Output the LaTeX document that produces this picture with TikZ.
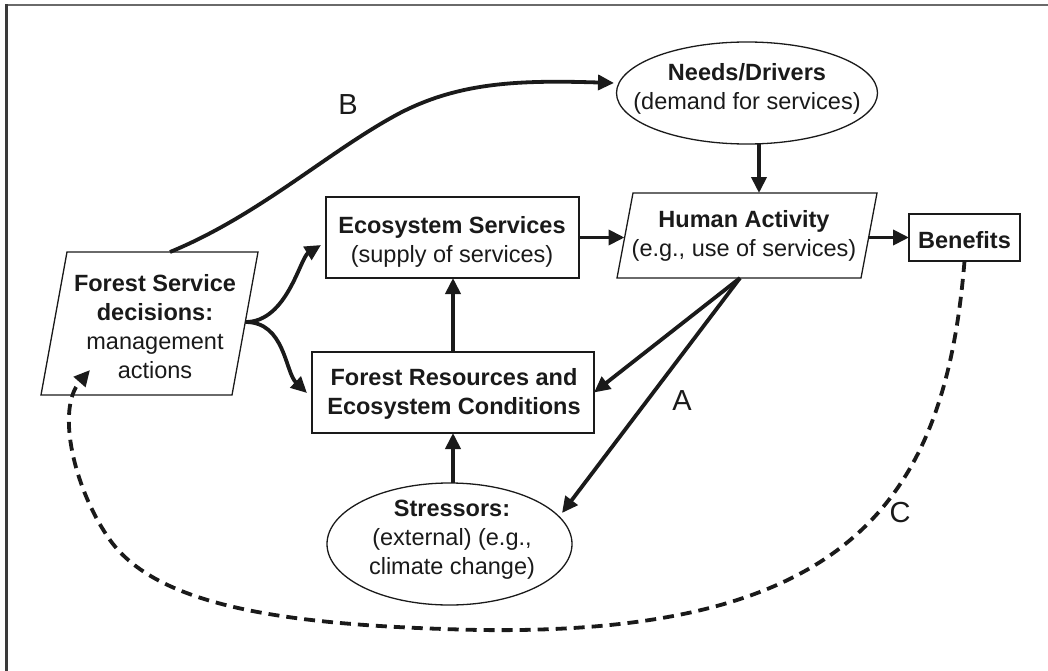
\documentclass[tikz,border=0pt]{standalone}
\usepackage{fontspec}
\setmainfont{Liberation Sans}
\usetikzlibrary{arrows.meta,shapes.geometric}
\definecolor{ink}{HTML}{1A1A1A}
\definecolor{frametop}{HTML}{6A6A6A}
\definecolor{frameleft}{HTML}{3A3A3A}
\begin{document}
\begin{tikzpicture}[x=1pt,y=-1pt,
  lbl/.style={font=\fontsize{23.5}{29}\selectfont, align=center, inner sep=0pt, text=ink},
  outline/.style={draw=ink, line width=1.3pt},
  rectbox/.style={outline, rectangle, inner sep=0pt, outer sep=0pt},
  ellbox/.style={outline, ellipse, inner sep=0pt, outer sep=0pt},
  arr/.style={draw=ink, line width=3.8pt, -{Triangle[length=16pt,width=15pt]}},
  dasharr/.style={arr, dash pattern=on 11pt off 7pt},
  letter/.style={font=\fontsize{29}{30}\selectfont, text=ink, inner sep=0pt}
]
\useasboundingbox (0,0) rectangle (1048,671);
% frame
\draw[line width=2pt, frametop] (5.5,5.5) -- (1048,5.5);
\draw[line width=2.4pt, frameleft] (6.5,4.5) -- (6.5,671);

% Forest Service decisions (parallelogram)
\coordinate (fsTL) at (67,252);
\coordinate (fsTR) at (258,252);
\coordinate (fsBR) at (232,395);
\coordinate (fsBL) at (41,395);
\draw[outline, line join=miter] (fsTL) -- (fsTR) -- (fsBR) -- (fsBL) -- cycle;
\node[lbl] (fs) at (155,326.5) {\textbf{Forest Service}\\\textbf{decisions:}\\management\\actions};
\coordinate (fsR) at (245.5,322);
\coordinate (fsT) at (170,252);
\coordinate (fsIn) at (90,370);

% Human Activity (parallelogram)
\coordinate (hTL) at (633,193);
\coordinate (hTR) at (877,193);
\coordinate (hBR) at (861,278);
\coordinate (hBL) at (617,278);
\draw[outline, line join=miter] (hTL) -- (hTR) -- (hBR) -- (hBL) -- cycle;
\node[lbl] (human) at (744,236) {\textbf{Human Activity}\\(e.g., use of services)};
\coordinate (hIn) at (624.5,237.5);
\coordinate (hOut) at (868,237.5);
\coordinate (hTop) at (759,193);
\coordinate (hBot) at (740,278);

% rectangles
\node[rectbox, minimum width=253pt, minimum height=81pt] (eco) at (452.5,237.5) {};
\node[lbl] (ecoT) at (452,241.5) {\textbf{Ecosystem Services}\\(supply of services)};
\node[rectbox, minimum width=282pt, minimum height=81pt] (fr) at (453,392.5) {};
\node[lbl] (frT) at (454,394) {\textbf{Forest Resources and}\\\textbf{Ecosystem Conditions}};
\node[rectbox, minimum width=111pt, minimum height=47pt] (ben) at (964.5,237.5) {};
\node[lbl] (benT) at (964.5,240) {\textbf{Benefits}};

% ellipses
\node[ellbox, minimum width=261pt, minimum height=102pt] (needs) at (747,93) {};
\node[lbl] (needsT) at (747,88.5) {\textbf{Needs/Drivers}\\(demand for services)};
\node[ellbox, minimum width=245pt, minimum height=122pt] (st) at (449.5,544) {};
\node[lbl] (stT) at (452,540) {\textbf{Stressors:}\\(external) (e.g.,\\climate change)};

\coordinate (ecoIn) at (321,245);
\coordinate (frIn) at (307,393);
\coordinate (needsIn) at (614,83);
\coordinate (stIn) at (562,513);

% straight arrows
\draw[arr] (needs.south -| hTop) -- (hTop);
\draw[arr] (eco.east) -- (hIn);
\draw[arr] (hOut) -- (ben.west);
\draw[arr] (fr.north) -- (fr.north |- eco.south);
\draw[arr] (fr.south |- st.north) -- (fr.south);
\draw[arr] (hBot) -- (fr.east);
\draw[arr] (hBot) -- (stIn);

% curved arrows from Forest Service decisions
\draw[arr] (fsR) .. controls (287,322) and (300,258) .. (ecoIn);
\draw[arr] (fsR) .. controls (285,322) and (285,372) .. (frIn);
\draw[arr] (fsT) .. controls (260,215) and (330,150) .. (400,113)
                 .. controls (460,82) and (520,80) .. (needsIn);

% dashed feedback C
\draw[dasharr] (ben.south) .. controls (945,500) and (850,635) .. (480,630)
   .. controls (300,626) and (160,610) .. (110,540)
   .. controls (75,491) and (55,410) .. (fsIn);

% letters
\node[letter] (la) at (682,401) {A};
\node[letter] (lb) at (348,105) {B};
\node[letter] (lc) at (900,513) {C};
\end{tikzpicture}
\end{document}
